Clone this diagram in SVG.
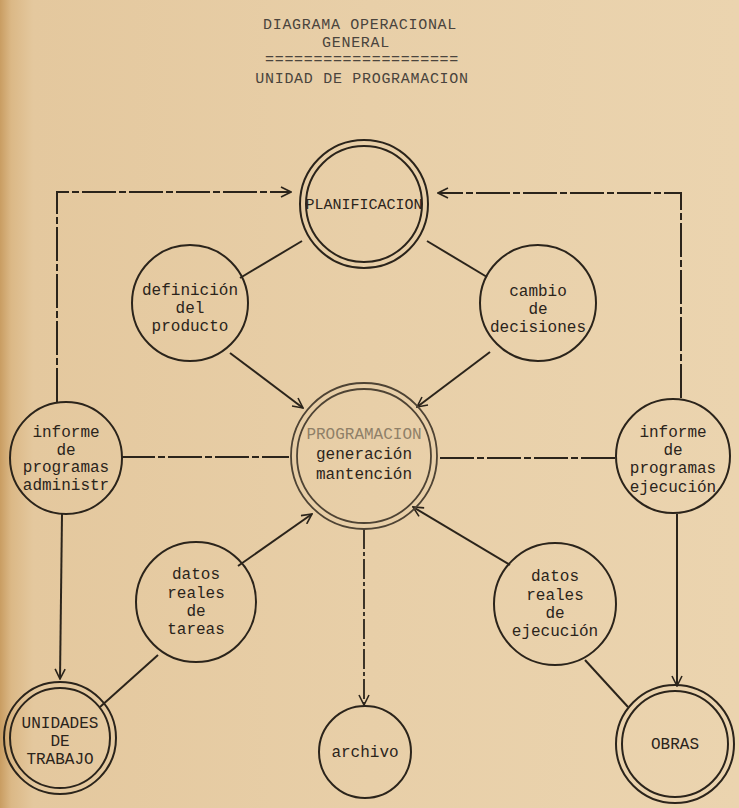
<svg xmlns="http://www.w3.org/2000/svg" width="739" height="808" viewBox="0 0 739 808">
<defs>
<linearGradient id="paper" x1="0" y1="0" x2="1" y2="0">
<stop offset="0" stop-color="#c99d62"/>
<stop offset="0.015" stop-color="#dbb886"/>
<stop offset="0.045" stop-color="#e4c89e"/>
<stop offset="0.5" stop-color="#e8cfa8"/>
<stop offset="1" stop-color="#ebd4af"/>
</linearGradient>
<marker id="arr" viewBox="0 0 12 12" refX="11" refY="6" markerWidth="12" markerHeight="12" markerUnits="userSpaceOnUse" orient="auto">
<path d="M1,1 L11,6 L1,11" fill="none" stroke="#2b241b" stroke-width="1.6"/>
</marker>
<style>
.ink{fill:none;stroke:#2b241b;stroke-width:2}
.thin{fill:none;stroke:#2b241b;stroke-width:1.8}
.faint{fill:none;stroke:#4e4334;stroke-width:1.8}
.dash{stroke-dasharray:34 3 7 3}
.t{font-family:"Liberation Mono","DejaVu Sans Mono",monospace;font-size:16px;fill:#2b241b;text-anchor:middle}
.tt{font-family:"Liberation Mono","DejaVu Sans Mono",monospace;font-size:15px;letter-spacing:0.7px;fill:#4a443d;text-anchor:middle}
.pale{fill:#8f8068}
</style>
</defs>
<rect x="0" y="0" width="739" height="808" fill="url(#paper)"/>

<g id="title">
<text class="tt" x="360" y="29">DIAGRAMA OPERACIONAL</text>
<text class="tt" x="356" y="47">GENERAL</text>
<text class="tt" x="362" y="64">====================</text>
<text class="tt" x="362" y="83">UNIDAD DE PROGRAMACION</text>
</g>

<g id="connectors">
<path class="ink dash" d="M57,402 L57,192 L291,192" marker-end="url(#arr)"/>
<path class="ink dash" d="M681,398 L681,193 L438,193" marker-end="url(#arr)"/>
<path class="ink" d="M240,278 L302,241"/>
<path class="ink" d="M487,277 L427,241"/>
<path class="ink" d="M230,353 L303,408" marker-end="url(#arr)"/>
<path class="ink" d="M490,352 L417,407" marker-end="url(#arr)"/>
<path class="ink dash" d="M121,457 L289,457"/>
<path class="ink dash" d="M440,458 L615,458"/>
<path class="ink" d="M62,514 L60,679" marker-end="url(#arr)"/>
<path class="ink" d="M677,514 L677,686" marker-end="url(#arr)"/>
<path class="thin" stroke-dasharray="20 3 4 3" d="M364,529 L364,705" marker-end="url(#arr)"/>
<path class="ink" d="M238,566 L312,514" marker-end="url(#arr)"/>
<path class="ink" d="M510,565 L413,507" marker-end="url(#arr)"/>
<path class="ink" d="M100,707 L158,655"/>
<path class="ink" d="M585,660 L628,707"/>
</g>

<g id="planificacion">
<circle class="ink" cx="364" cy="204" r="64"/>
<circle class="ink" cx="364" cy="204" r="58"/>
<text class="t" x="364" y="209" style="font-size:15px">PLANIFICACION</text>
</g>

<g id="definicion">
<circle class="ink" cx="190" cy="303" r="58"/>
<text class="t" x="190" y="295">definición</text>
<text class="t" x="190" y="313">del</text>
<text class="t" x="190" y="331">producto</text>
</g>

<g id="cambio">
<circle class="ink" cx="538" cy="303" r="58"/>
<text class="t" x="538" y="296">cambio</text>
<text class="t" x="538" y="314">de</text>
<text class="t" x="538" y="332">decisiones</text>
</g>

<g id="programacion">
<circle class="faint" cx="364" cy="456" r="73"/>
<circle class="faint" cx="364" cy="456" r="67"/>
<text class="t pale" x="364" y="439">PROGRAMACION</text>
<text class="t" x="364" y="459">generación</text>
<text class="t" x="364" y="479">mantención</text>
</g>

<g id="informe-admin">
<circle class="ink" cx="66" cy="458" r="56"/>
<text class="t" x="66" y="437">informe</text>
<text class="t" x="66" y="455">de</text>
<text class="t" x="66" y="472">programas</text>
<text class="t" x="66" y="490">administr</text>
</g>

<g id="informe-ejec">
<circle class="ink" cx="673" cy="456" r="57"/>
<text class="t" x="673" y="437">informe</text>
<text class="t" x="673" y="455">de</text>
<text class="t" x="673" y="473">programas</text>
<text class="t" x="673" y="492">ejecución</text>
</g>

<g id="datos-tareas">
<circle class="ink" cx="196" cy="602" r="60"/>
<text class="t" x="196" y="579">datos</text>
<text class="t" x="196" y="598">reales</text>
<text class="t" x="196" y="616">de</text>
<text class="t" x="196" y="634">tareas</text>
</g>

<g id="datos-ejec">
<circle class="ink" cx="555" cy="604" r="61"/>
<text class="t" x="555" y="581">datos</text>
<text class="t" x="555" y="600">reales</text>
<text class="t" x="555" y="618">de</text>
<text class="t" x="555" y="636">ejecución</text>
</g>

<g id="unidades">
<circle class="ink" cx="60" cy="738" r="56"/>
<circle class="ink" cx="60" cy="738" r="50"/>
<text class="t" x="60" y="728">UNIDADES</text>
<text class="t" x="60" y="746">DE</text>
<text class="t" x="60" y="764">TRABAJO</text>
</g>

<g id="archivo">
<circle class="ink" cx="365" cy="752" r="46"/>
<text class="t" x="365" y="757">archivo</text>
</g>

<g id="obras">
<circle class="ink" cx="675" cy="744" r="59"/>
<circle class="ink" cx="675" cy="744" r="53"/>
<text class="t" x="675" y="749">OBRAS</text>
</g>
</svg>
